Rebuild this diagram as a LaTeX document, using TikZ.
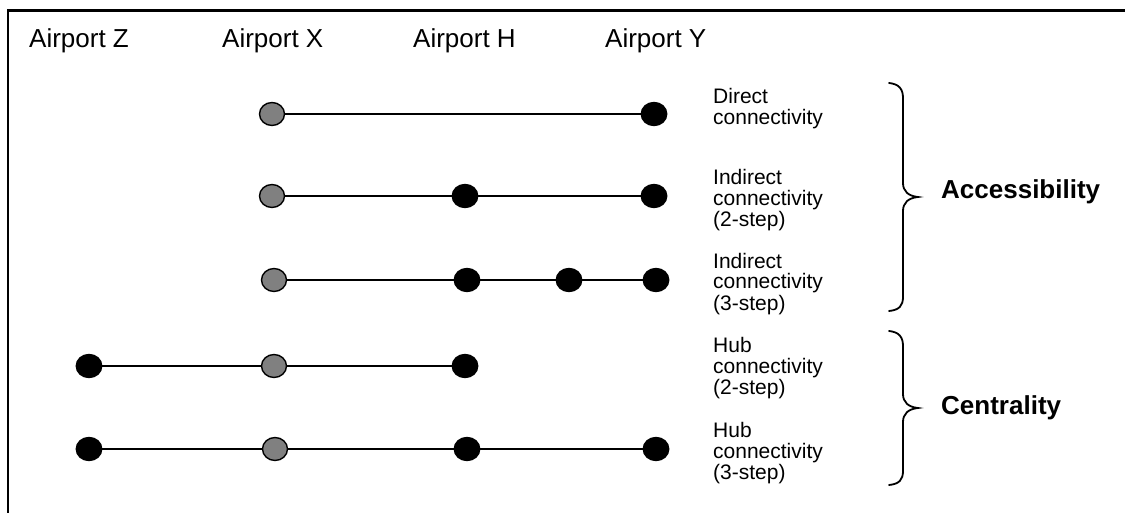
\documentclass[tikz,border=0pt]{standalone}
\usepackage{fontspec}
\setmainfont{Liberation Sans}
\usetikzlibrary{shapes.geometric}
\begin{document}
\begin{tikzpicture}[x=1pt,y=-1pt,
  airport/.style={anchor=base west, inner sep=0pt, font=\fontsize{26}{30}\selectfont},
  graydot/.style={ellipse, draw=black, line width=1.4pt, fill=black!50, minimum width=25pt, minimum height=23pt, inner sep=0pt},
  blackdot/.style={ellipse, draw=black, line width=1.4pt, fill=black, minimum width=25.5pt, minimum height=23pt, inner sep=0pt},
  link/.style={draw=black, line width=1.5pt},
  rowlabel/.style={anchor=base west, align=left, inner sep=0pt, font=\fontsize{21}{21}\selectfont},
  grouplabel/.style={anchor=base west, inner sep=0pt, font=\fontsize{26}{30}\selectfont\bfseries},
  bracepath/.style={draw=black, line width=1.8pt, line cap=round},
  frame/.style={draw=black, line width=2.2pt}
]
\useasboundingbox (0,0) rectangle (1125,513);
% frame (only left and top edges visible)
\coordinate (fbl) at (8,520);
\coordinate (ftl) at (8,10.5);
\coordinate (ftr) at (1130,10.5);
\draw[frame] (fbl) -- (ftl) -- (ftr);

% airport labels
\node[airport] (labZ) at (29,48) {Airport Z};
\node[airport] (labX) at (222,48) {Airport X};
\node[airport] (labH) at (413,48) {Airport H};
\node[airport] (labY) at (605,48) {Airport Y};

% row 1: direct
\node[graydot] (r1x) at (272,114) {};
\node[blackdot] (r1y) at (654,114) {};
\draw[link] (r1x) -- (r1y);

% row 2: indirect 2-step
\node[graydot] (r2x) at (272,196) {};
\node[blackdot] (r2h) at (465,196) {};
\node[blackdot] (r2y) at (654,196) {};
\draw[link] (r2x) -- (r2h) -- (r2y);

% row 3: indirect 3-step
\node[graydot] (r3x) at (274,280) {};
\node[blackdot] (r3h) at (467,280) {};
\node[blackdot] (r3m) at (569,280) {};
\node[blackdot] (r3y) at (656,280) {};
\draw[link] (r3x) -- (r3h) -- (r3m) -- (r3y);

% row 4: hub 2-step
\node[blackdot] (r4z) at (89,366) {};
\node[graydot] (r4x) at (274,366) {};
\node[blackdot] (r4h) at (465,366) {};
\draw[link] (r4z) -- (r4x) -- (r4h);

% row 5: hub 3-step
\node[blackdot] (r5z) at (89,449) {};
\node[graydot] (r5x) at (275,449) {};
\node[blackdot] (r5h) at (467,449) {};
\node[blackdot] (r5y) at (656,449) {};
\draw[link] (r5z) -- (r5x) -- (r5h) -- (r5y);

% row labels (base anchor = baseline of last line)
\node[rowlabel] (t1) at (713,125) {Direct\\connectivity};
\node[rowlabel] (t2) at (713,227) {Indirect\\connectivity\\(2-step)};
\node[rowlabel] (t3) at (713,310) {Indirect\\connectivity\\(3-step)};
\node[rowlabel] (t4) at (713,394) {Hub\\connectivity\\(2-step)};
\node[rowlabel] (t5) at (713,479) {Hub\\connectivity\\(3-step)};

% braces
\draw[bracepath] (889,83) .. controls (899,84) and (903,89) .. (903,98) -- (903,183)
  .. controls (903,191) and (908,196) .. (918,197)
  .. controls (908,198) and (903,203) .. (903,211) -- (903,297)
  .. controls (903,306) and (899,310) .. (889,311);
\draw[bracepath] (889,331) .. controls (899,332) and (903,337) .. (903,346) -- (903,394)
  .. controls (903,402) and (908,407) .. (918,408)
  .. controls (908,409) and (903,414) .. (903,422) -- (903,471)
  .. controls (903,480) and (899,484) .. (889,485);

% group labels
\node[grouplabel] (acc) at (941,199) {Accessibility};
\node[grouplabel] (cen) at (941,414) {Centrality};
\end{tikzpicture}
\end{document}
